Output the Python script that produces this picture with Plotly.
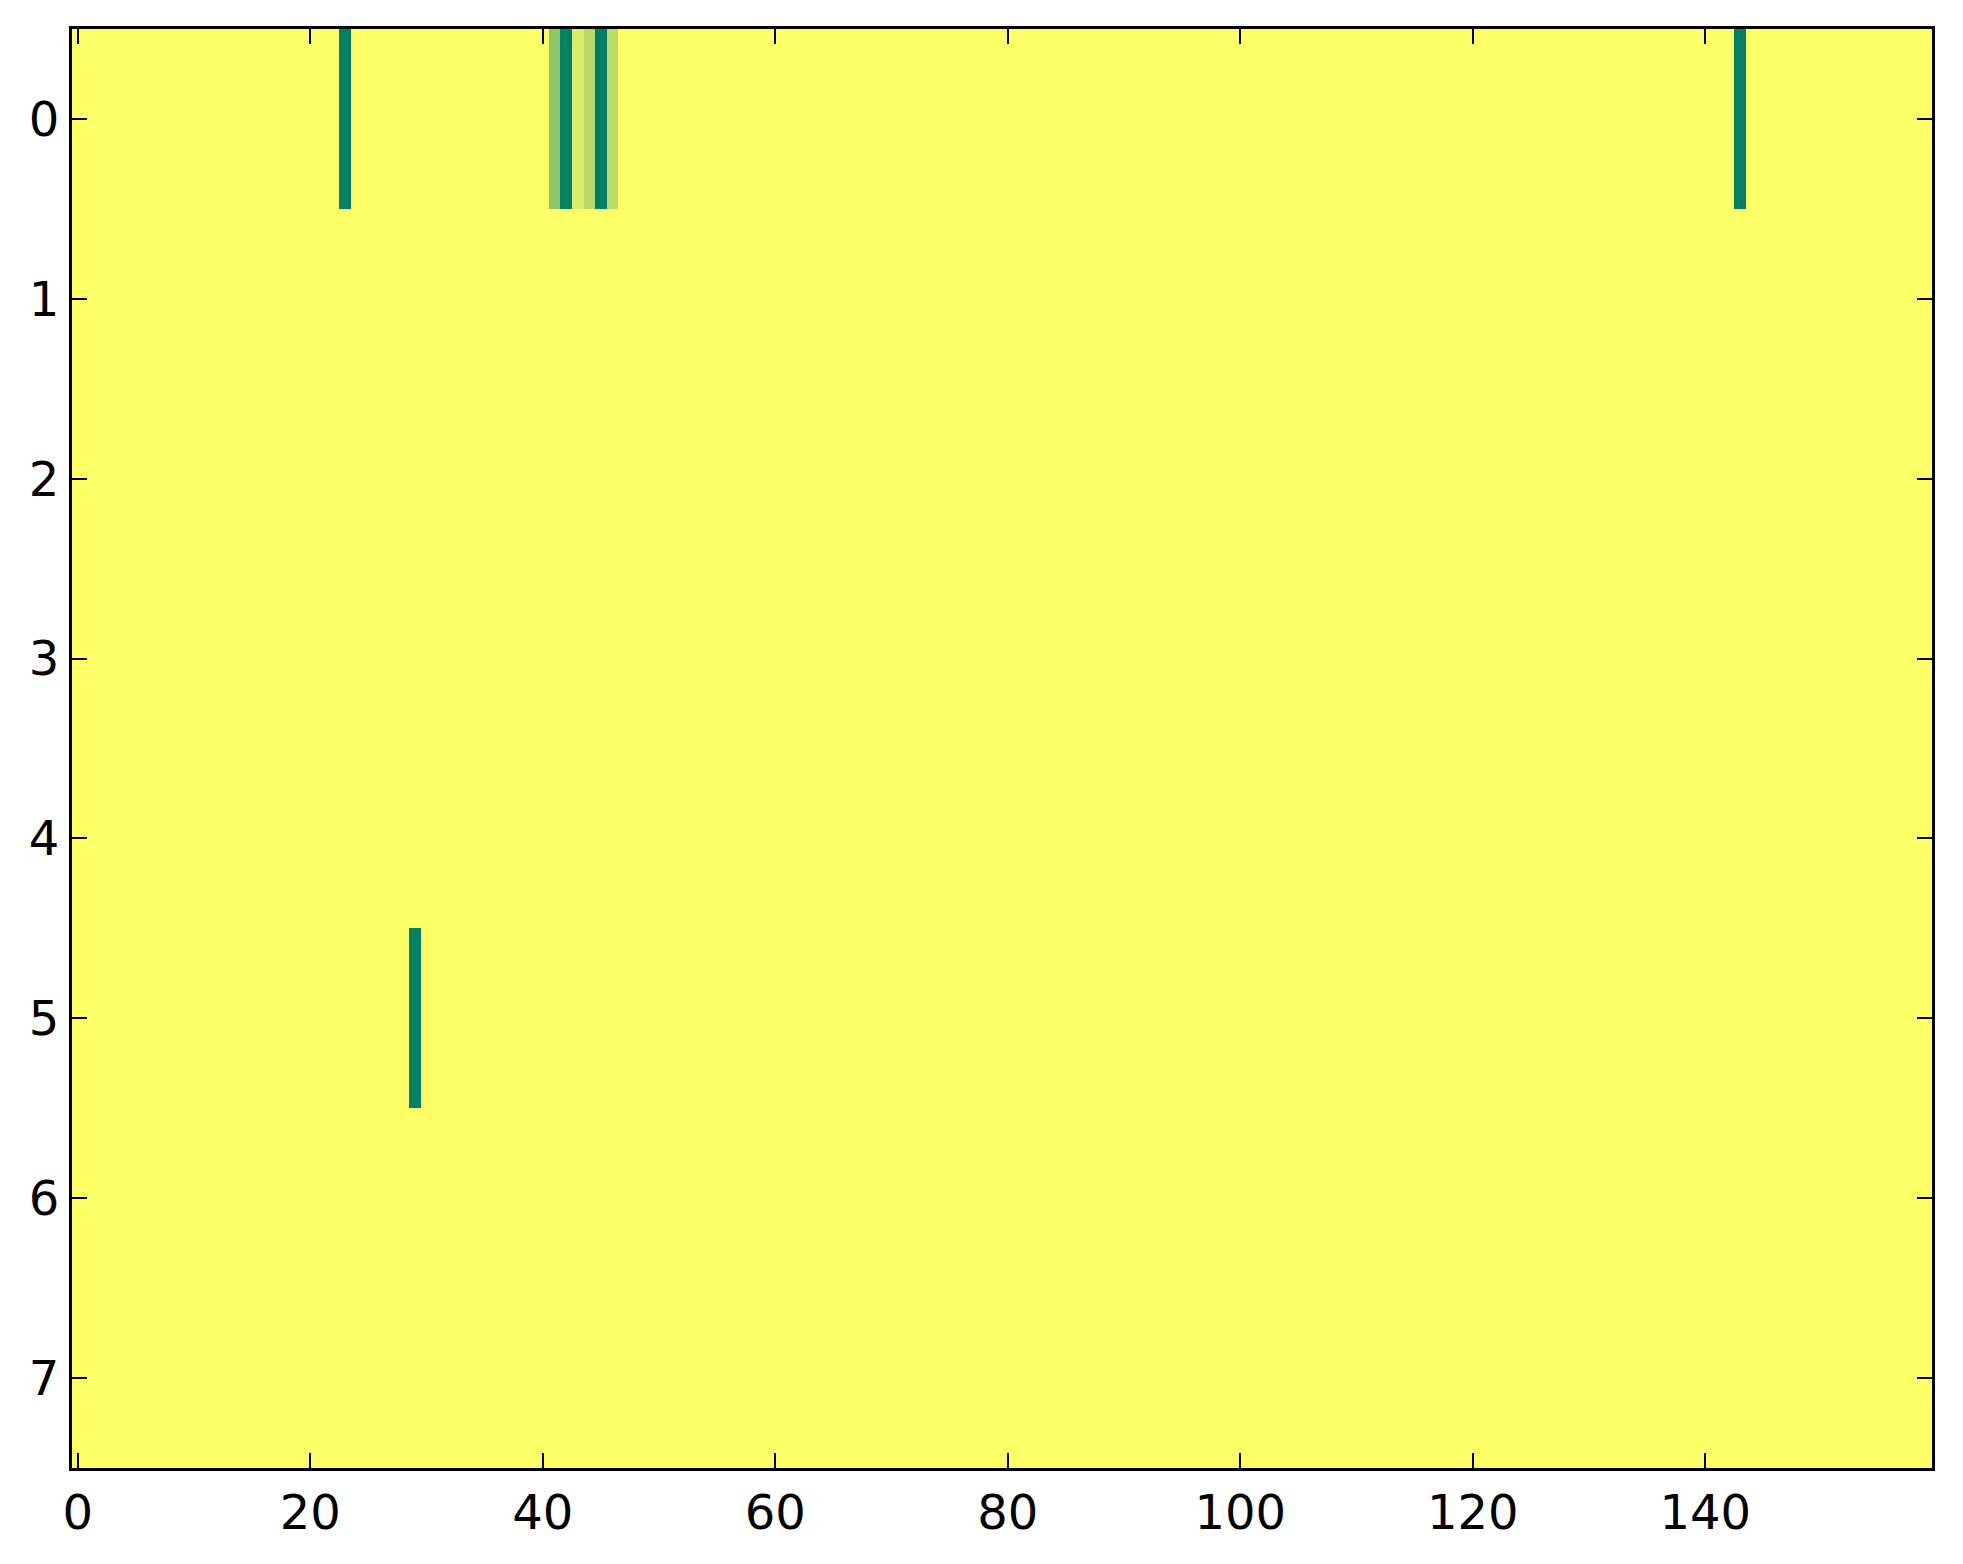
import numpy as np
import plotly.graph_objects as go

n_rows = 8
n_cols = 160
background_value = 1.0

# cells that differ from the background (row, column, value)
cell_rows = [0, 0, 0, 0, 0, 0, 0, 0, 5]
cell_cols = [23, 41, 42, 43, 44, 45, 46, 143, 29]
cell_vals = [0.0, 0.55, 0.0, 0.855, 0.71, 0.0, 0.73, 0.0, 0.0]

x_ticks = [0, 20, 40, 60, 80, 100, 120, 140]
y_ticks = [0, 1, 2, 3, 4, 5, 6, 7]

z = np.full((n_rows, n_cols), background_value)
for r, c, v in zip(cell_rows, cell_cols, cell_vals):
    z[r, c] = v

summer = [[0.0, "rgb(0,128,102)"], [1.0, "rgb(255,255,102)"]]

fig = go.Figure(go.Heatmap(
    z=z,
    x=list(range(n_cols)),
    y=list(range(n_rows)),
    colorscale=summer,
    zmin=0, zmax=1,
    showscale=False,
    hoverongaps=False,
))

axis_common = dict(
    showgrid=False, zeroline=False,
    showline=True, linecolor="black", linewidth=3,
    mirror="allticks",
    ticks="inside", ticklen=15, tickwidth=1.5, tickcolor="black",
    tickfont=dict(family="DejaVu Sans", size=48, color="black"),
)

fig.update_xaxes(range=[-0.5, n_cols - 0.5], tickvals=x_ticks,
                 ticktext=[str(t) for t in x_ticks], **axis_common)
fig.update_yaxes(range=[n_rows - 0.5, -0.5], tickvals=y_ticks,
                 ticktext=[str(t) for t in y_ticks], **axis_common)

fig.update_layout(
    width=1963, height=1564,
    margin=dict(l=64, r=39, t=21, b=104, pad=0),
    paper_bgcolor="white", plot_bgcolor="white",
    font=dict(family="DejaVu Sans"),
)

fig.write_html("out.html")
